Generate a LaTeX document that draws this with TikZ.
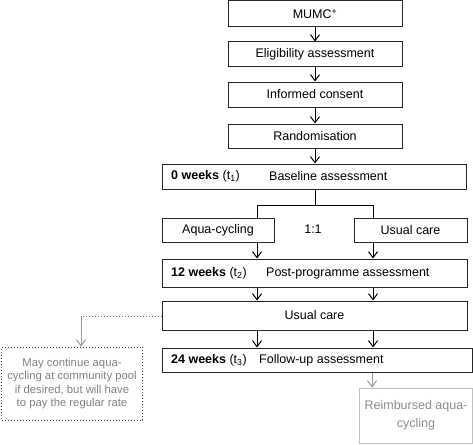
\documentclass[tikz,border=0pt]{standalone}
\usepackage{fontspec}
\setmainfont{Liberation Sans}
\usetikzlibrary{arrows.meta}
\begin{document}
\begin{tikzpicture}[x=1pt,y=-1pt,
  box/.style={draw=black!85,line width=1pt,rectangle,inner sep=0pt,font=\fontsize{12.5}{14}\selectfont},
  lbl/.style={inner sep=0pt,anchor=west,font=\fontsize{12.5}{14}\selectfont},
  arr/.style={line width=1pt,draw=black,-{Straight Barb[length=6pt,width=9pt,line width=1pt]}},
  garr/.style={line width=1pt,draw=black!40,-{Straight Barb[length=6pt,width=9pt,line width=1pt]}},
  ln/.style={line width=1pt,draw=black}]
\useasboundingbox (0,0) rectangle (473,444);
\node[box,minimum width=174,minimum height=26] (mumc) at (315,14) {MUMC\textsuperscript{+}};
\node[box,minimum width=174,minimum height=24] (elig) at (315,54) {Eligibility assessment};
\node[box,minimum width=174,minimum height=25] (cons) at (315,94.5) {Informed consent};
\node[box,minimum width=174,minimum height=24] (rand) at (315,136) {Randomisation};
\node[box,minimum width=304,minimum height=25] (base) at (314,176.5) {};
\node[lbl] (basew) at (171,176.5) {\textbf{0 weeks} (t\textsubscript{1})};
\node[lbl] (baset) at (269,176.5) {Baseline assessment};
\coordinate (bm) at (315,205);
\coordinate (bl) at (257,205);
\coordinate (bR) at (373,205);
\node[box,minimum width=112,minimum height=24] (aqua) at (218,230) {Aqua-cycling};
\node[box,minimum width=113,minimum height=24] (uca) at (410.5,230) {Usual care};
\node[inner sep=0pt,font=\fontsize{12.5}{14}\selectfont] (ratio) at (313,229) {1:1};
\node[box,minimum width=305,minimum height=28] (post) at (314.5,273) {};
\node[lbl] (postw) at (171,273) {\textbf{12 weeks} (t\textsubscript{2})};
\node[lbl] (postt) at (266,273) {Post-programme assessment};
\node[box,minimum width=305,minimum height=29] (ucb) at (314.5,315.5) {Usual care};
\node[box,minimum width=310,minimum height=24] (fu) at (317,360) {};
\node[lbl] (fuw) at (171,360) {\textbf{24 weeks} (t\textsubscript{3})};
\node[lbl] (fut) at (259,360) {Follow-up assessment};
\node[draw=black!75,dotted,line width=1pt,rectangle,inner sep=0pt,minimum width=141,minimum height=73,
  text=black!50,align=center,font=\fontsize{11.3}{13.6}\selectfont] (cont) at (72,383.5)
  {May continue aqua-\\cycling at community pool\\if desired, but will have\\to pay the regular rate};
\node[draw=black!25,line width=1pt,rectangle,inner sep=0pt,minimum width=113,minimum height=55,
  text=black!45,align=center,font=\fontsize{12.5}{18}\selectfont] (reimb) at (416,415.5)
  {Reimbursed aqua-\\cycling};
\coordinate (dc) at (81,316);
\coordinate (rg) at (372,372);
% connectors
\draw[arr] (mumc) -- (elig);
\draw[arr] (elig) -- (cons);
\draw[arr] (cons) -- (rand);
\draw[arr] (rand.south) -- (rand.south |- base.north);
\draw[ln] (base.south -| bm) -- (bm);
\draw[ln] (bl |- aqua.north) -- (bl) -- (bR) -- (bR |- uca.north);
\draw[arr] (bl |- aqua.south) -- (bl |- post.north);
\draw[arr] (bR |- uca.south) -- (bR |- post.north);
\draw[arr] (bl |- post.south) -- (bl |- ucb.north);
\draw[arr] (bR |- post.south) -- (bR |- ucb.north);
\draw[arr] (bl |- ucb.south) -- (bl |- fu.north);
\draw[arr] (bR |- ucb.south) -- (bR |- fu.north);
\draw[line width=1pt,draw=black!55,dotted] (ucb.west |- dc) -- (dc);
\draw[garr] (dc) -- (dc |- cont.north);
\draw[garr] (rg |- fu.south) -- (rg |- reimb.north);
\end{tikzpicture}
\end{document}
